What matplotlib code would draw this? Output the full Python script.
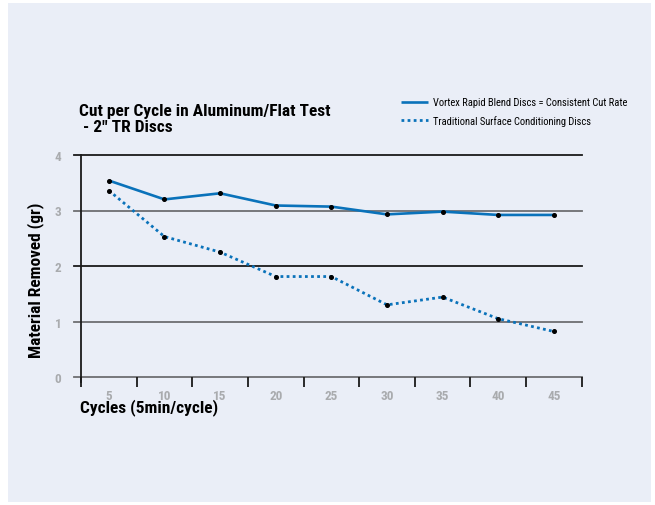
import matplotlib
matplotlib.use("Agg")
import matplotlib.pyplot as plt
from matplotlib import font_manager
from matplotlib.patches import Rectangle

# prefer a condensed face when one is around
installed = {f.name for f in font_manager.fontManager.ttflist}
narrow = [n for n in ['Liberation Sans Narrow', 'Roboto Condensed', 'Open Sans Condensed',
                      'Arial Narrow', 'Liberation Sans'] if n in installed]
plt.rcParams['font.family'] = narrow[:1] + ['DejaVu Sans']

cycles = ['5', '10', '15', '20', '25', '30', '35', '40', '45']
vortex = [3.54, 3.20, 3.31, 3.09, 3.07, 2.93, 2.98, 2.92, 2.92]
traditional = [3.36, 2.53, 2.25, 1.81, 1.81, 1.30, 1.44, 1.05, 0.82]
y_ticks = [0, 1, 2, 3, 4]

BLUE = '#0a72ba'
PANEL = '#eaeef7'
GREY = '#a9abae'

W, H = 655, 506
fig = plt.figure(figsize=(W / 100, H / 100), dpi=100, facecolor='white')

# light panel behind everything
fig.patches.append(Rectangle((8 / W, 1 - 503 / H), 643 / W, 499 / H,
                             transform=fig.transFigure, facecolor=PANEL,
                             edgecolor='none', zorder=-5))

ax = fig.add_axes([81 / W, 128 / H, 500.7 / W, 222 / H])
ax.set_facecolor('none')
ax.set_zorder(2)

x = [i + 0.5 for i in range(len(cycles))]

# horizontal rules, alternating dark / grey
rule_colors = ['#6d6e71', '#6d6e71', '#1a1a1a', '#6d6e71', '#1a1a1a']
for y, c in zip(y_ticks, rule_colors):
    ax.axhline(y, xmin=-0.014, xmax=1.0, color=c, lw=1.3, clip_on=False, zorder=1)

ax.plot(x, vortex, color=BLUE, lw=1.9, solid_capstyle='butt', zorder=3,
        label='Vortex Rapid Blend Discs = Consistent Cut Rate')
ax.plot(x, traditional, color=BLUE, lw=2.0, linestyle=(0, (1, 1.2)), zorder=3,
        label='Traditional Surface Conditioning Discs')
ax.plot(x, vortex, 'o', color='black', ms=2.6, zorder=4)
ax.plot(x, traditional, 'o', color='black', ms=2.6, zorder=4)

ax.set_xlim(0, len(cycles))
ax.set_ylim(0, 4)

for s in ['top', 'right', 'bottom']:
    ax.spines[s].set_visible(False)
ax.spines['left'].set_color('#1a1a1a')
ax.spines['left'].set_linewidth(1.3)
ax.spines['left'].set_bounds(-0.09, 4)

# boundary ticks carry no text, labels sit at the bin centres
ax.set_xticks(range(len(cycles) + 1))
ax.set_xticklabels([])
ax.tick_params(axis='x', which='major', length=7, width=1.3, color='#1a1a1a', direction='out')
ax.set_xticks(x, minor=True)
ax.set_xticklabels(cycles, minor=True)
ax.tick_params(axis='x', which='minor', length=0, pad=9, labelsize=9.5, labelcolor=GREY)
for t in ax.get_xticklabels(minor=True):
    t.set_fontweight('bold')

ax.set_yticks(y_ticks)
ax.set_yticklabels([str(v) for v in y_ticks])
ax.tick_params(axis='y', length=0, pad=14, labelsize=9.5, labelcolor=GREY)
for t in ax.get_yticklabels():
    t.set_fontweight('bold')

fig.text(79 / W, 1 - 135 / H, 'Cut per Cycle in Aluminum/Flat Test\n - 2" TR Discs',
         fontsize=12.5, fontweight='bold', ha='left', va='bottom', linespacing=1.05)
fig.text(80 / W, 1 - 408 / H, 'Cycles (5min/cycle)', fontsize=12.5, fontweight='bold',
         ha='left', va='center')
fig.text(36 / W, 1 - 280 / H, 'Material Removed (gr)', fontsize=12.5, fontweight='bold',
         rotation=90, ha='center', va='center')

leg = fig.legend(loc='upper left', bbox_to_anchor=(397 / W, 1 - 94 / H),
                 frameon=False, fontsize=7.6, handlelength=2.5, handletextpad=0.5,
                 labelspacing=0.75, borderaxespad=0)

fig.savefig('out.png', dpi=100, facecolor='white')
